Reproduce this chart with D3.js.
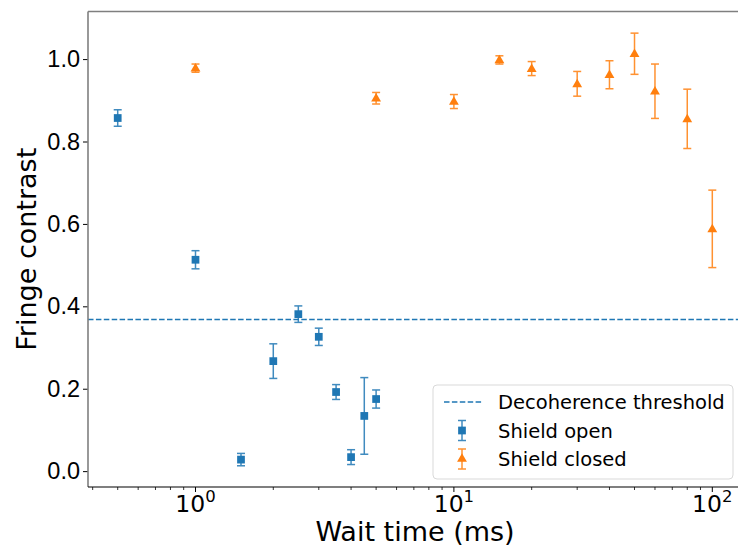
<!DOCTYPE html>
<html>
<head>
<meta charset="utf-8">
<script src="https://cdn.jsdelivr.net/npm/d3@7"></script>
<style>
  body { margin: 0; background: #fff; }
  svg { font-family: "DejaVu Sans", sans-serif; }
</style>
</head>
<body>
<div id="chart"></div>
<script>
// Shield open (blue squares)
const openX = [0.5, 1, 1.5, 2, 2.5, 3, 3.5, 4, 4.5, 5];
const openY = [0.857, 0.513, 0.028, 0.267, 0.381, 0.326, 0.192, 0.034, 0.134, 0.175];
const openErr = [0.02, 0.022, 0.015, 0.042, 0.02, 0.021, 0.018, 0.018, 0.093, 0.022];

// Shield closed (orange triangles)
const closedX = [1, 5, 10, 15, 20, 30, 40, 50, 60, 80, 100];
const closedY = [0.978, 0.905, 0.897, 0.998, 0.977, 0.94, 0.962, 1.013, 0.922, 0.855, 0.588];
const closedErr = [0.01, 0.014, 0.017, 0.01, 0.017, 0.03, 0.034, 0.05, 0.066, 0.072, 0.094];

const threshold = 0.368;
const yTicks = [0.0, 0.2, 0.4, 0.6, 0.8, 1.0];
const xMajor = [1, 10, 100];

const WIDTH = 738;
const HEIGHT = 548;
const MARGIN = { top: 11.5, right: -4, bottom: 61, left: 88 };
const BLUE = '#1f77b4';
const ORANGE = '#ff7f0e';

const svg = d3.select('#chart')
  .append('svg')
  .attr('width', WIDTH)
  .attr('height', HEIGHT);

const x = d3.scaleLog()
  .domain([0.3837, 130.3])
  .range([MARGIN.left, WIDTH - MARGIN.right]);

const y = d3.scaleLinear()
  .domain([-0.0385, 1.1155])
  .range([HEIGHT - MARGIN.bottom, MARGIN.top]);

// threshold line
svg.append('line')
  .attr('x1', MARGIN.left).attr('x2', WIDTH - MARGIN.right)
  .attr('y1', y(threshold)).attr('y2', y(threshold))
  .attr('stroke', BLUE)
  .attr('stroke-width', 1.5)
  .attr('stroke-dasharray', '5.5,2.4');

// error bars + markers
function drawSeries(xs, ys, errs, color, shape) {
  const g = svg.append('g');
  const data = xs.map((d, i) => ({ x: d, y: ys[i], e: errs[i] }));
  const bars = g.selectAll('g.err').data(data).enter().append('g')
    .attr('stroke', color).attr('stroke-width', 1.5).attr('opacity', 0.85);
  bars.append('line')
    .attr('x1', d => x(d.x)).attr('x2', d => x(d.x))
    .attr('y1', d => y(d.y - d.e)).attr('y2', d => y(d.y + d.e));
  [-1, 1].forEach(s => {
    bars.append('line')
      .attr('x1', d => x(d.x) - 4).attr('x2', d => x(d.x) + 4)
      .attr('y1', d => y(d.y + s * d.e)).attr('y2', d => y(d.y + s * d.e));
  });
  const sym = shape === 'square'
    ? d3.symbol(d3.symbolSquare, 60)
    : d3.symbol(d3.symbolTriangle, 42);
  g.selectAll('path').data(data).enter().append('path')
    .attr('d', sym)
    .attr('transform', d => `translate(${x(d.x)},${y(d.y) + (shape === 'square' ? 0 : 0.5)})`)
    .attr('fill', color);
}
drawSeries(openX, openY, openErr, BLUE, 'square');
drawSeries(closedX, closedY, closedErr, ORANGE, 'triangle');

// y axis
const yAxis = svg.append('g')
  .attr('transform', `translate(${MARGIN.left},0)`)
  .call(d3.axisLeft(y).tickValues(yTicks).tickFormat(d3.format('.1f')).tickSize(5).tickPadding(3));
yAxis.select('.domain').remove();
yAxis.selectAll('.tick line').attr('stroke', '#000').attr('stroke-width', 1);
yAxis.selectAll('.tick text').attr('font-size', 23.5).attr('fill', '#000');

// x axis with minor ticks
const minor = [];
[0.1, 1, 10].forEach(dec => {
  for (let k = 2; k <= 9; k++) {
    const v = dec * k;
    if (v >= 0.3837 && v <= 130.3) minor.push(v);
  }
});
const xAxisG = svg.append('g')
  .attr('transform', `translate(0,${HEIGHT - MARGIN.bottom})`);
xAxisG.selectAll('line.minor').data(minor).enter().append('line')
  .attr('x1', d => x(d)).attr('x2', d => x(d))
  .attr('y1', 0).attr('y2', 3)
  .attr('stroke', '#000').attr('stroke-width', 0.8);
xAxisG.selectAll('line.major').data(xMajor).enter().append('line')
  .attr('x1', d => x(d)).attr('x2', d => x(d))
  .attr('y1', 0).attr('y2', 5)
  .attr('stroke', '#000').attr('stroke-width', 1);
const xt = xAxisG.selectAll('text').data(xMajor).enter().append('text')
  .attr('x', d => x(d))
  .attr('y', 25)
  .attr('text-anchor', 'middle')
  .attr('font-size', 23.5);
xt.append('tspan').text('10');
xt.append('tspan').attr('dy', -10).attr('font-size', 16.5).text(d => Math.round(Math.log10(d)));

// spines
svg.append('line')
  .attr('x1', MARGIN.left).attr('x2', MARGIN.left)
  .attr('y1', MARGIN.top).attr('y2', HEIGHT - MARGIN.bottom)
  .attr('stroke', '#7f7f7f').attr('stroke-width', 1.6);
svg.append('line')
  .attr('x1', MARGIN.left).attr('x2', WIDTH)
  .attr('y1', MARGIN.top).attr('y2', MARGIN.top)
  .attr('stroke', '#7f7f7f').attr('stroke-width', 1.6);
svg.append('line')
  .attr('x1', MARGIN.left).attr('x2', WIDTH)
  .attr('y1', HEIGHT - MARGIN.bottom).attr('y2', HEIGHT - MARGIN.bottom)
  .attr('stroke', '#000').attr('stroke-width', 1.2);

// axis labels
svg.append('text')
  .attr('x', 415)
  .attr('y', 541)
  .attr('text-anchor', 'middle')
  .attr('font-size', 27)
  .text('Wait time (ms)');
svg.append('text')
  .attr('transform', `translate(36,${(MARGIN.top + HEIGHT - MARGIN.bottom) / 2}) rotate(-90)`)
  .attr('text-anchor', 'middle')
  .attr('font-size', 27)
  .text('Fringe contrast');

// legend
const legend = svg.append('g').attr('transform', 'translate(433,385)');
legend.append('rect')
  .attr('width', 300).attr('height', 94)
  .attr('rx', 4)
  .attr('fill', '#fff').attr('fill-opacity', 0.8)
  .attr('stroke', '#d9d9d9').attr('stroke-width', 1);
const items = ['Decoherence threshold', 'Shield open', 'Shield closed'];
items.forEach((label, i) => {
  const cy = 17 + i * 28.5;
  if (i === 0) {
    legend.append('line')
      .attr('x1', 11).attr('x2', 50).attr('y1', cy).attr('y2', cy)
      .attr('stroke', BLUE).attr('stroke-width', 1.5)
      .attr('stroke-dasharray', '5.5,2.4');
  } else {
    const color = i === 1 ? BLUE : ORANGE;
    const lg = legend.append('g').attr('stroke', color).attr('stroke-width', 1.5).attr('opacity', 0.85);
    lg.append('line').attr('x1', 29).attr('x2', 29).attr('y1', cy - 10).attr('y2', cy + 10);
    lg.append('line').attr('x1', 25).attr('x2', 33).attr('y1', cy - 10).attr('y2', cy - 10);
    lg.append('line').attr('x1', 25).attr('x2', 33).attr('y1', cy + 10).attr('y2', cy + 10);
    legend.append('path')
      .attr('d', i === 1 ? d3.symbol(d3.symbolSquare, 60) : d3.symbol(d3.symbolTriangle, 42))
      .attr('transform', `translate(29,${cy})`)
      .attr('fill', color);
  }
  legend.append('text')
    .attr('x', 65).attr('y', cy + 7)
    .attr('font-size', 19.5)
    .text(label);
});
</script>
</body>
</html>
